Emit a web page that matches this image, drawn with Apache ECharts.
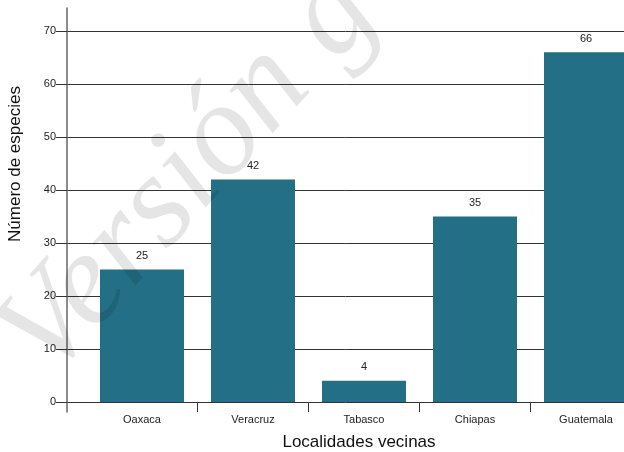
<!DOCTYPE html>
<html>
<head>
<meta charset="utf-8">
<script src="https://cdn.jsdelivr.net/npm/echarts@6/dist/echarts.min.js"></script>
<style>
html,body{margin:0;padding:0;background:#fff;}
#c{width:624px;height:452px;}
</style>
</head>
<body>
<div id="c"></div>
<script>
const categories = ['Oaxaca', 'Veracruz', 'Tabasco', 'Chiapas', 'Guatemala'];
const values = [25, 42, 4, 35, 66];
const yTicks = [0, 10, 20, 30, 40, 50, 60, 70];
const yTitle = 'Número de especies';
const xTitle = 'Localidades vecinas';
const watermark = 'Versión g';

const FONT = '"Liberation Sans", Arial, sans-serif';
const chart = echarts.init(document.getElementById('c'), null, {renderer: 'canvas'});

const yMin = yTicks[0], yMax = yTicks[yTicks.length - 1], yStep = yTicks[1] - yTicks[0];

chart.setOption({
  animation: false,
  backgroundColor: '#fff',
  grid: [
    {left: 67, right: 0, top: 31, bottom: 50, outerBoundsMode: 'none', containLabel: false},
    {left: 67, width: 1, top: 8, bottom: 40, outerBoundsMode: 'none', containLabel: false},
    {left: 86.5, right: -17.5, top: 31, bottom: 50, outerBoundsMode: 'none', containLabel: false}
  ],
  xAxis: [
    {gridIndex: 0, type: 'value', show: false},
    {gridIndex: 1, type: 'value', show: false},
    {
      gridIndex: 2, type: 'category', data: categories,
      axisLine: {show: false},
      axisTick: {show: true, length: 10, interval: (i) => i !== 0, lineStyle: {color: '#333', width: 1}},
      axisLabel: {fontSize: 11, color: '#222', margin: 12, fontFamily: FONT, interval: 0},
      splitLine: {show: false}
    }
  ],
  yAxis: [
    {
      gridIndex: 0, type: 'value', min: yMin, max: yMax, interval: yStep,
      axisLine: {show: false},
      axisTick: {show: true, length: 11, lineStyle: {color: '#333', width: 1}},
      axisLabel: {fontSize: 11, color: '#222', margin: 11, fontFamily: FONT},
      splitLine: {show: true, lineStyle: {color: '#333', width: 1}}
    },
    {
      gridIndex: 1, type: 'value', min: 0, max: 1,
      axisLine: {show: true, lineStyle: {color: '#666', width: 1.5}},
      axisTick: {show: false}, axisLabel: {show: false}, splitLine: {show: false}
    },
    {gridIndex: 2, type: 'value', min: yMin, max: yMax, interval: yStep, show: false, splitLine: {show: false}}
  ],
  series: [{
    type: 'bar',
    xAxisIndex: 2, yAxisIndex: 2,
    data: values,
    barWidth: 84,
    itemStyle: {color: '#236F85'},
    label: {show: true, position: 'top', distance: 8, fontSize: 11, color: '#222', fontFamily: FONT}
  }],
  graphic: [
    {
      type: 'text', x: 15, y: 164, rotation: Math.PI / 2,
      style: {text: yTitle, font: '17px ' + FONT, fill: '#111', textAlign: 'center', textVerticalAlign: 'middle'}
    },
    {
      type: 'text', x: 359, y: 442,
      style: {text: xTitle, font: '17px ' + FONT, fill: '#111', textAlign: 'center', textVerticalAlign: 'middle'}
    },
    {
      type: 'text', x: 72, y: 403, rotation: 48 * Math.PI / 180, z: 100,
      style: {text: watermark, font: 'italic 132px "Liberation Serif", "DejaVu Serif", serif', fill: 'rgba(0,0,0,0.1)', textAlign: 'left', textVerticalAlign: 'bottom'}
    }
  ]
});
</script>
</body>
</html>
